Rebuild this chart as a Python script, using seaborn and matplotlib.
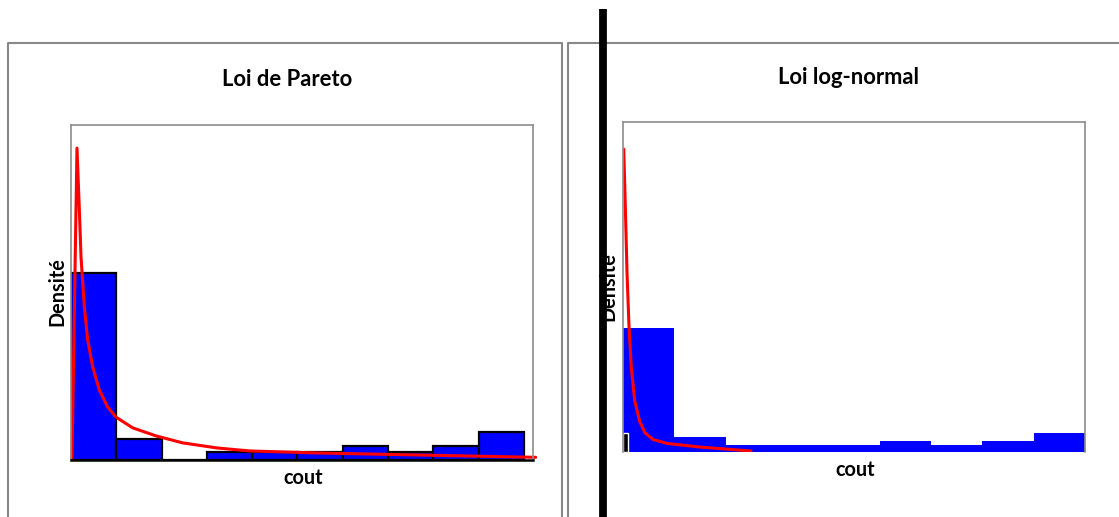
import pandas as pd
import seaborn as sns
from matplotlib import pyplot as plt
from matplotlib.lines import Line2D

# Pareto panel: 10 bins of width 1, bar heights as fraction of the axes height
pareto_edges = list(range(0, 11))
pareto_heights = [0.558, 0.063, 0.0, 0.024, 0.024, 0.024, 0.043, 0.024, 0.043, 0.083]
pareto_curve_x = [0.022, 0.132, 0.183, 0.221, 0.294, 0.369, 0.479, 0.625, 0.810, 0.993,
                  1.362, 1.876, 2.47, 3.22, 3.95, 5.43, 7.64, 10.26]
pareto_curve_y = [0.006, 0.931, 0.752, 0.606, 0.457, 0.358, 0.278, 0.209, 0.158, 0.128,
                  0.096, 0.072, 0.051, 0.036, 0.027, 0.021, 0.015, 0.008]

# Log-normal panel: 9 bins of width 1
lognorm_edges = list(range(0, 10))
lognorm_heights = [0.376, 0.045, 0.021, 0.021, 0.021, 0.033, 0.021, 0.033, 0.058]
lognorm_curve_x = [0.014, 0.045, 0.078, 0.117, 0.162, 0.228, 0.326, 0.429, 0.585, 0.858, 1.50, 2.495]
lognorm_curve_y = [0.918, 0.745, 0.545, 0.380, 0.255, 0.155, 0.092, 0.058, 0.038, 0.026, 0.015, 0.003]

titles = ["Loi de Pareto", "Loi log-normal"]

W, H = 1119, 517
sns.set_theme(style="white")
plt.rcParams['font.family'] = ['Lato', 'DejaVu Sans']

fig = plt.figure(figsize=(W / 100, H / 100), dpi=100)


def fx(px):
    return px / W


def fy(py):
    return 1 - py / H


def panel(left, top, right, bottom, edges, heights, cx, cy, xlim, edge, clip):
    ax = fig.add_axes([fx(left), fy(bottom), fx(right - left), (bottom - top) / H])
    centers = [(a + b) / 2 for a, b in zip(edges[:-1], edges[1:])]
    df = pd.DataFrame({"cout": centers, "h": heights})
    if edge:
        sns.histplot(data=df, x="cout", weights="h", bins=edges, stat="count",
                     color="#0000ff", edgecolor="black", linewidth=1.6, alpha=1, ax=ax)
    else:
        sns.histplot(data=df, x="cout", weights="h", bins=edges, stat="count",
                     color="#0000ff", edgecolor="none", linewidth=0, alpha=1, ax=ax)
    curve = pd.DataFrame({"x": cx, "y": cy})
    sns.lineplot(data=curve, x="x", y="y", sort=False, estimator=None,
                 color="#ff0000", linewidth=2.2, ax=ax)
    for line in ax.lines:
        line.set_clip_on(clip)
        line.set_solid_joinstyle("round")
    ax.set_xlim(*xlim)
    ax.set_ylim(0, 1)
    ax.set_xticks([])
    ax.set_yticks([])
    ax.set_xlabel("")
    ax.set_ylabel("")
    for s in ax.spines.values():
        s.set_color("#8c8c8c")
        s.set_linewidth(1.2)
    return ax


ax1 = panel(71, 125, 533, 460, pareto_edges, pareto_heights,
            pareto_curve_x, pareto_curve_y, (0, 10.2), True, False)
ax1.spines["bottom"].set_color("black")
ax1.spines["bottom"].set_linewidth(1.8)

ax2 = panel(623, 122, 1085, 452, lognorm_edges, lognorm_heights,
            lognorm_curve_x, lognorm_curve_y, (0, 9), False, True)
ax2.spines["bottom"].set_visible(False)
# small dark stub at the left of the first bin
ax2.bar([0.05], [0.058], width=0.1, color="black", zorder=1.5)

# panel frames
gray = "#888888"
fig.add_artist(Line2D([fx(7.7), fx(7.7), fx(561.7), fx(561.7)],
                      [0, fy(43), fy(43), 0], color=gray, lw=1.5))
fig.add_artist(Line2D([fx(568), fx(568), 1.0],
                      [0, fy(43), fy(43)], color=gray, lw=1.5))

# titles and labels
txt = dict(ha="center", va="center", fontweight="bold", color="black")
fig.text(fx(287), fy(80), titles[0], fontsize=15.8, **txt)
fig.text(fx(848), fy(78), titles[1], fontsize=15.8, **txt)
fig.text(fx(57), fy(292), "Densité", rotation=90, fontsize=14.3, **txt)
fig.text(fx(608), fy(287), "Densité", rotation=90, fontsize=14.3, **txt)
fig.text(fx(303), fy(478), "cout", fontsize=14.3, **txt)
fig.text(fx(855), fy(470), "cout", fontsize=14.3, **txt)

# thick black divider
fig.add_artist(Line2D([fx(603), fx(603)], [0, fy(9)], color="black", lw=5.6,
                      solid_capstyle="butt", zorder=10))

plt.savefig("out.png", dpi=100)
